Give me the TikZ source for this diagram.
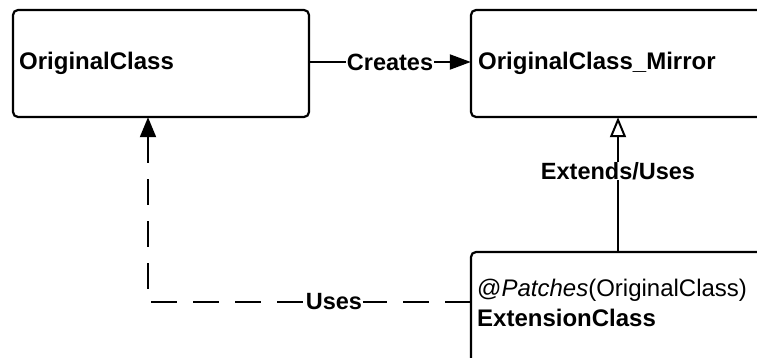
\documentclass[tikz,border=0pt]{standalone}
\usepackage{fontspec}
\setmainfont{Liberation Sans}
\usetikzlibrary{arrows.meta}
\begin{document}
\begin{tikzpicture}[x=1pt,y=-1pt,
  classbox/.style={draw, line width=2.2pt, rounded corners=5pt},
  conn/.style={line width=2pt},
  tag/.style={fill=white, inner sep=0.5pt, font=\bfseries\fontsize{23.5}{27}\selectfont},
  title/.style={anchor=west, inner sep=0pt, font=\fontsize{24}{28}\selectfont}]
\useasboundingbox (0,0) rectangle (757,358);
\clip (0,0) rectangle (757,358);
% invisible anchors for the three class boxes
\node[inner sep=0pt, minimum width=296pt, minimum height=107pt] (origbox) at (161,63.5) {};
\node[inner sep=0pt, minimum width=298pt, minimum height=107pt] (mirrorbox) at (620,63.5) {};
\node[inner sep=0pt, minimum width=298pt, minimum height=112pt] (extbox) at (620,308) {};
% class boxes
\draw[classbox] (13,10) rectangle (309,117);
\draw[classbox] (471,10) rectangle (769,117);
\draw[classbox] (471,252) rectangle (769,364);
% class titles
\node[title] (t1) at (19,63) {\bfseries OriginalClass};
\node[title] (t2) at (478,63) {\bfseries OriginalClass\_Mirror};
\node[title] (t3) at (477,290) {@\textit{Patches}(OriginalClass)};
\node[title] (t4) at (477,318) {\bfseries ExtensionClass};
% connectors
\draw[conn, -{Triangle[length=21pt,width=15pt]}]
  (origbox.east |- 0,62) -- node[tag] {Creates} (mirrorbox.west |- 0,62);
\draw[conn, -{Triangle[open,length=20pt,width=16pt,line width=2pt]}]
  (extbox.north -| 618,0) -- node[tag, pos=0.6] {Extends/Uses} (mirrorbox.south -| 618,0);
\draw[conn, dash pattern=on 26pt off 16pt, -{Triangle[length=20pt,width=16pt]}]
  (extbox.west |- 0,302) -| node[tag, pos=0.212] {Uses} (origbox.south -| 148,0);
\end{tikzpicture}
\end{document}
